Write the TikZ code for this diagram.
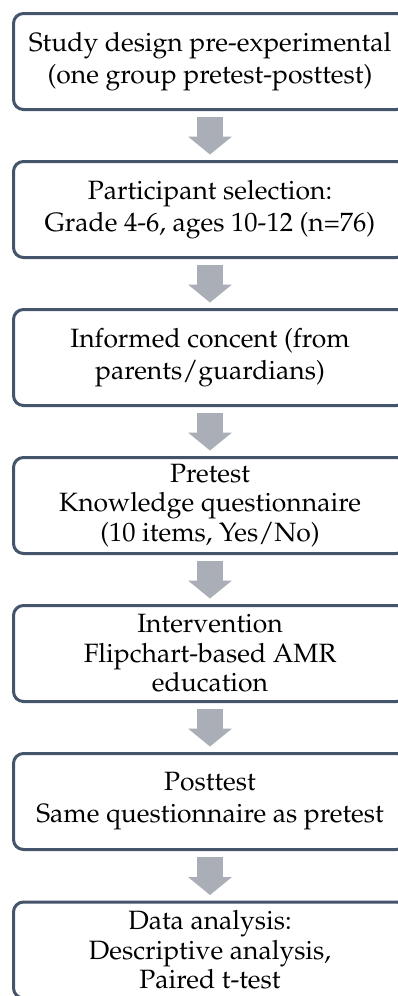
\documentclass[tikz,border=0pt]{standalone}
\usepackage[T1]{fontenc}
\usepackage{mathpazo}
\usetikzlibrary{arrows.meta}
\definecolor{boxline}{RGB}{68,84,106}
\definecolor{flowgray}{RGB}{170,174,183}
\tikzset{
  stage/.style={draw=boxline, line width=3pt, rounded corners=10pt,
    minimum width=393pt, minimum height=96pt, inner sep=0pt, align=center,
    font=\fontsize{26.5}{32}\selectfont},
  stage3/.style={stage, font=\fontsize{26.5}{29.5}\selectfont},
  flow/.style={draw=flowgray, line width=26pt,
    -{Triangle[length=18pt,width=44pt,line width=0pt]},
    shorten <=5.5pt, shorten >=5.5pt}
}

\begin{document}
\begin{tikzpicture}[x=1pt, y=-1pt]
  \useasboundingbox (0,0) rectangle (398,996);
  \clip (0,0) rectangle (398,996);
  \node[stage]  (design)   at (210,61.5)  {Study design pre-experimental\\(one group pretest-posttest)};
  \node[stage]  (select)   at (210,209.5) {Participant selection:\\Grade 4-6, ages 10-12 (n=76)};
  \node[stage]  (consent)  at (210,357.5) {Informed concent (from\\parents/guardians)};
  \node[stage3] (pretest)  at (210,505.5) {Pretest\\Knowledge questionnaire\\(10 items, Yes/No)};
  \node[stage3] (interv)   at (210,653.5) {Intervention\\Flipchart-based AMR\\education};
  \node[stage]  (posttest) at (210,801.5) {Posttest\\Same questionnaire as pretest};
  \node[stage3] (analysis) at (210,950)   {Data analysis:\\Descriptive analysis,\\Paired t-test};
  % flow arrows
  \draw[flow] (design)   -- (select);
  \draw[flow] (select)   -- (consent);
  \draw[flow] (consent)  -- (pretest);
  \draw[flow] (pretest)  -- (interv);
  \draw[flow] (interv)   -- (posttest);
  \draw[flow] (posttest) -- (analysis);
\end{tikzpicture}
\end{document}
